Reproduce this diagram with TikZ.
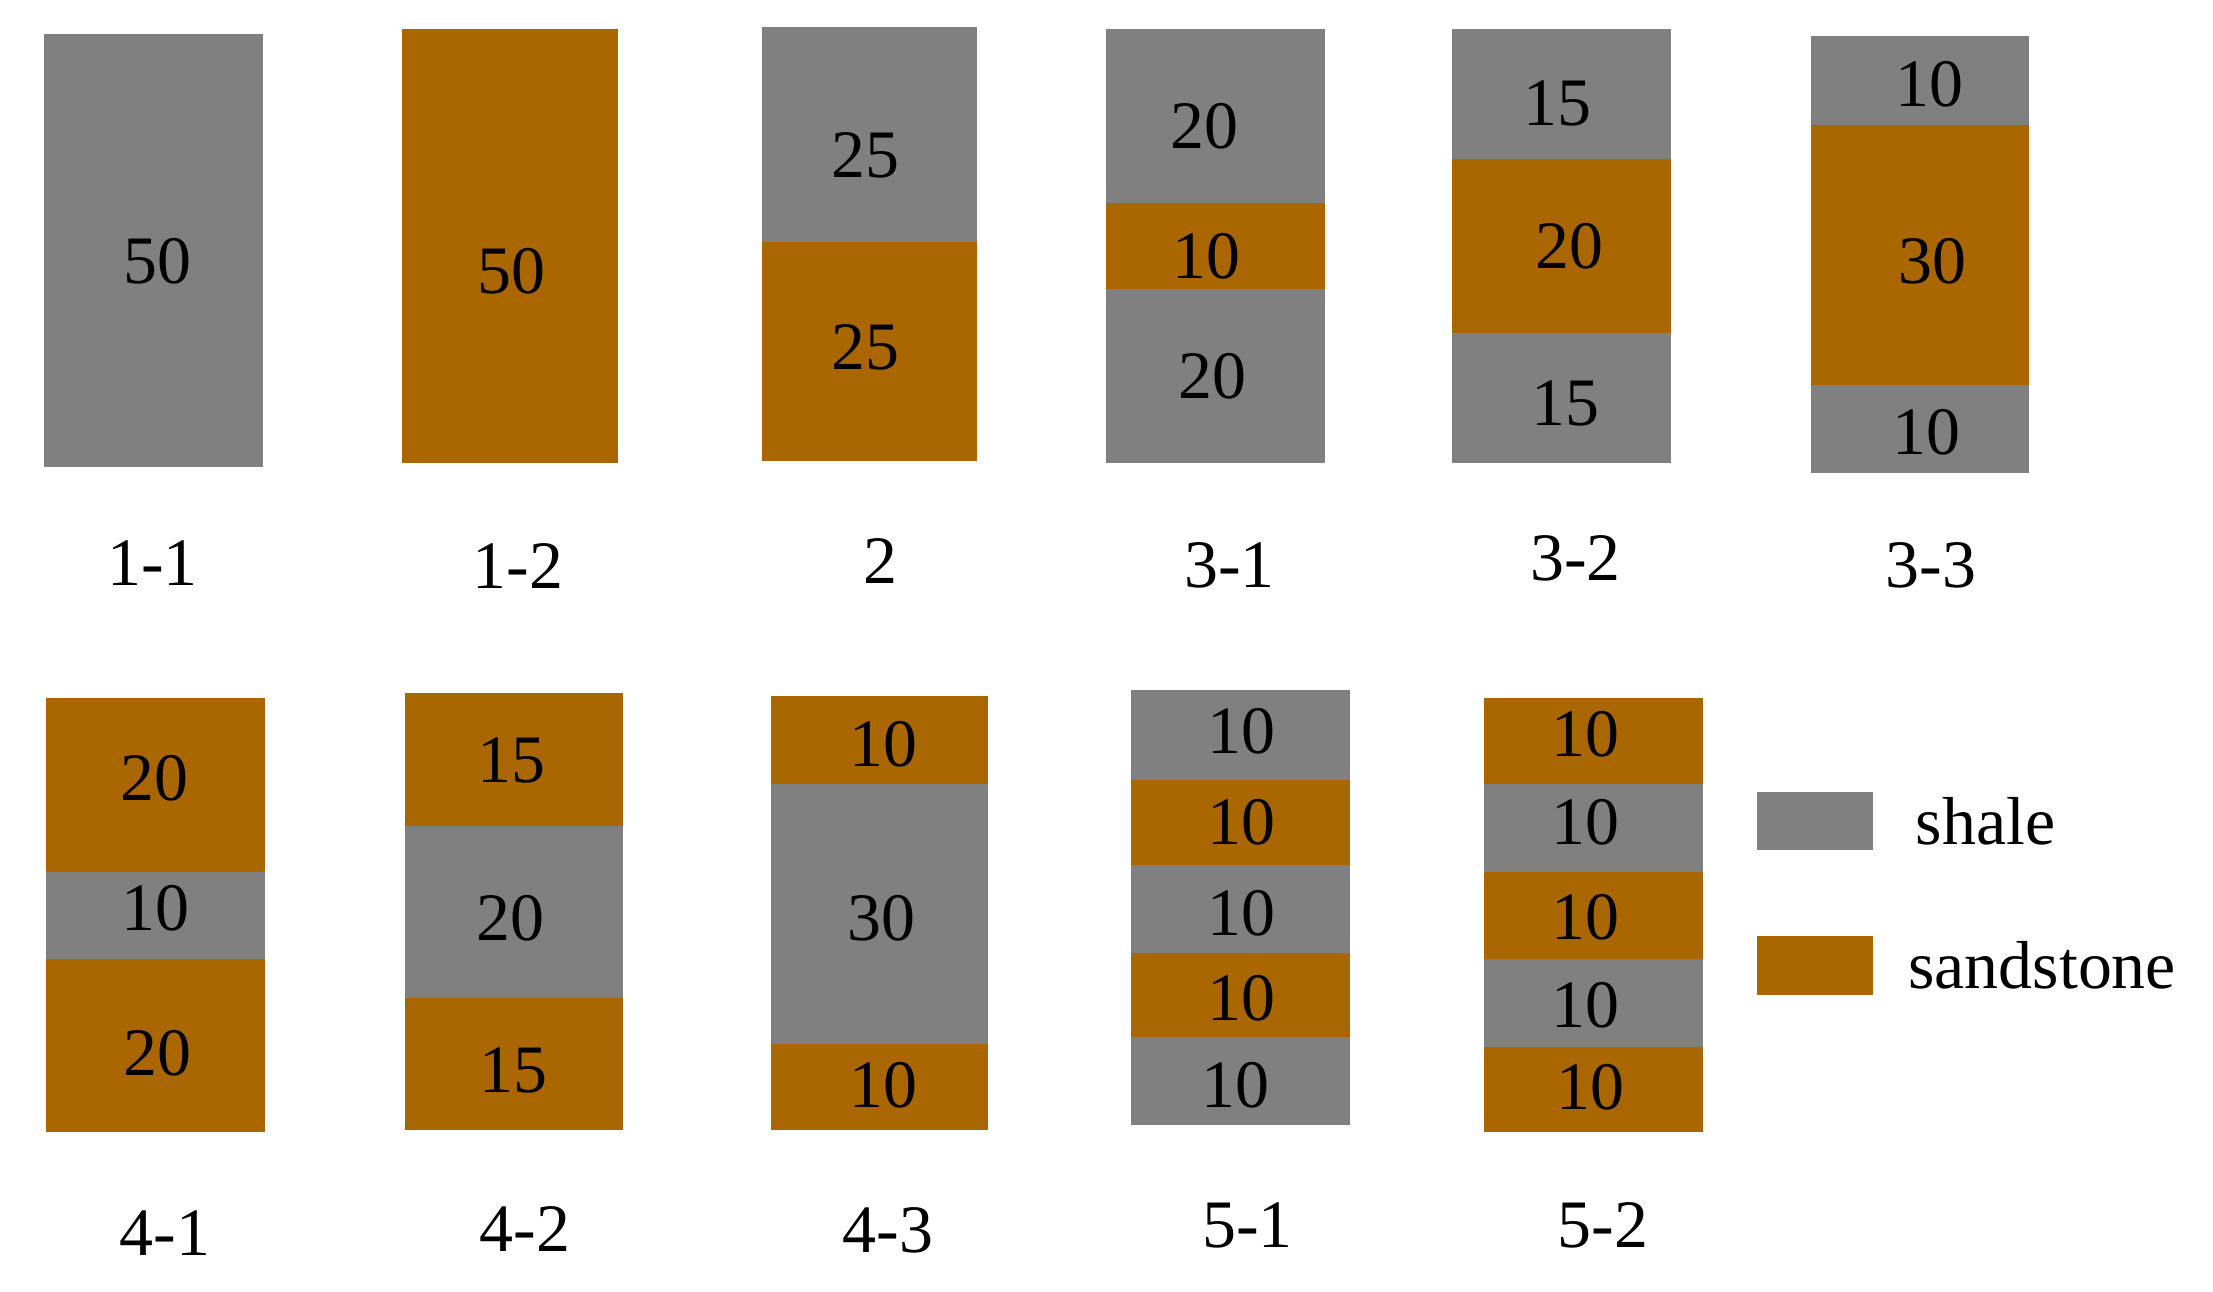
\documentclass[tikz,border=0pt]{standalone}
\usepackage{fontspec}
\setmainfont{Liberation Serif}
\definecolor{shalegray}{RGB}{128,128,128}
\definecolor{sandbrown}{RGB}{170,102,0}

\begin{document}
\begin{tikzpicture}[x=0.01cm, y=-0.01cm,
            every node/.style={inner sep=0pt, font=\fontsize{19.3}{24}\selectfont},
            shale/.style={fill=shalegray},
            sand/.style={fill=sandbrown},
            lab/.style={anchor=base},
            key/.style={minimum width=1.155cm, minimum height=0.58cm}]
        \useasboundingbox (0,0) rectangle (2213,1292);

        % layers: left/right/top/bottom/rock/thickness/text x/text y/name
        \foreach \xa/\xb/\ya/\yb/\rock/\v/\tx/\ty/\n in {
            43.5/262.5/34/467/shale/50/157/261/v11a,
            402/618/29/463/sand/50/511/271/v12a,
            762/977/27/242/shale/25/865/155.5/v2a,
            762/977/242/461/sand/25/865/347/v2b,
            1106/1325/29/203.5/shale/20/1204/126/v31a,
            1106/1325/203.5/289/sand/10/1206/256/v31b,
            1106/1325/289/463/shale/20/1212/376/v31c,
            1452/1670.5/29/159/shale/15/1557/103/v32a,
            1452/1670.5/159/333/sand/20/1569/246/v32b,
            1452/1670.5/333/463/shale/15/1565/403/v32c,
            1811/2029/36/125/shale/10/1929/84/v33a,
            1811/2029/125/385/sand/30/1932/261/v33b,
            1811/2029/385/473/shale/10/1926/432/v33c,
            46/264.5/698/872/sand/20/154/778/v41a,
            46/264.5/872/959/shale/10/155/908/v41b,
            46/264.5/959/1132/sand/20/157/1053/v41c,
            404.5/623/693/826/sand/15/511/760/v42a,
            404.5/623/826/997.5/shale/20/510/918/v42b,
            404.5/623/997.5/1130/sand/15/513/1070/v42c,
            770.6/988/696/784/sand/10/883/744/v43a,
            770.6/988/784/1044/shale/30/881/918/v43b,
            770.6/988/1044/1130/sand/10/883/1085/v43c,
            1130.5/1350/690/779.5/shale/10/1241/731/v51a,
            1130.5/1350/779.5/865/sand/10/1241/822/v51b,
            1130.5/1350/865/953/shale/10/1241/913/v51c,
            1130.5/1350/953/1037/sand/10/1241/998.5/v51d,
            1130.5/1350/1037/1125/shale/10/1235/1085/v51e,
            1484/1702.5/698/784/sand/10/1585/734/v52a,
            1484/1702.5/784/872/shale/10/1585/822/v52b,
            1484/1702.5/872/959/sand/10/1585/917.5/v52c,
            1484/1702.5/959/1047/shale/10/1585/1005/v52d,
            1484/1702.5/1047/1132/sand/10/1590/1087/v52e}
        {
            \fill[\rock] (\xa,\ya) rectangle (\xb,\yb);
            \node (\n) at (\tx,\ty) {\v};
        }

        % model names
        \foreach \tx/\ty/\t/\n in {152.5/586/1-1/m11, 518/589/1-2/m12,
                880.5/583.5/2/m2, 1229.5/588/3-1/m31, 1575.6/581/3-2/m32,
                1931/588/3-3/m33, 165/1255/4-1/m41, 525/1251/4-2/m42,
                888/1252/4-3/m43, 1247.6/1247.5/5-1/m51, 1603/1247.5/5-2/m52}
            \node[lab] (\n) at (\tx,\ty) {\t};

        % legend
        \node[key, shale] (keyshale) at (1815,821) {};
        \node[key, sand] (keysand) at (1815,965.5) {};
        \node[anchor=base west] (txtshale) at (1915,844) {shale};
        \node[anchor=base west] (txtsand) at (1907.6,988) {sandstone};
\end{tikzpicture}
\end{document}
